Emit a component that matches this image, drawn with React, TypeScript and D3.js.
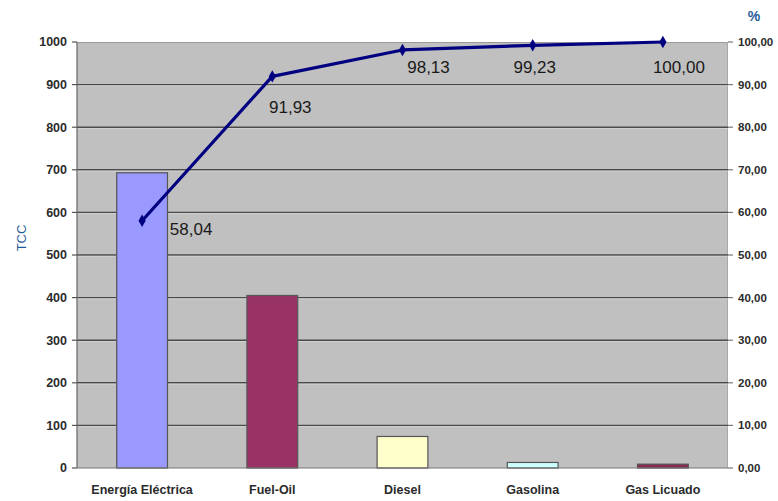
import React from "react";
import * as d3 from "d3";

// Consumption by energy carrier (TCC) and cumulative share (%)
const categories = ["Energía Eléctrica", "Fuel-Oil", "Diesel", "Gasolina", "Gas Licuado"];
const tccValues = [693, 405, 74, 13, 9];
const cumulativePct = [58.04, 91.93, 98.13, 99.23, 100.0];
const pctLabels = ["58,04", "91,93", "98,13", "99,23", "100,00"];
const leftTicks = [0, 100, 200, 300, 400, 500, 600, 700, 800, 900, 1000];
const rightTicks = [0, 10, 20, 30, 40, 50, 60, 70, 80, 90, 100];
const barColors = ["#9999FF", "#993366", "#FFFFCC", "#CCFFFF", "#8B2A55"];
// per-label nudges for the cumulative % annotations
const labelOffsets: [number, number][] = [
  [49, 8],
  [18, 31],
  [26, 17],
  [2, 22],
  [16, 25],
];

const W = 778;
const H = 501;
const M = { left: 77, right: 728, top: 42, bottom: 468 };
const FONT = "'Liberation Sans', Arial, sans-serif";

export default function App() {
  const x = d3.scaleBand<string>().domain(categories).range([M.left, M.right]).padding(0);
  const yL = d3.scaleLinear().domain([0, 1000]).range([M.bottom, M.top]);
  const yR = d3.scaleLinear().domain([0, 100]).range([M.bottom, M.top]);
  const bw = x.bandwidth();
  const barW = bw * 0.39;
  const cx = (c: string) => (x(c) as number) + bw / 2;

  const linePath = d3
    .line<number>()
    .x((_, i) => cx(categories[i]))
    .y((d) => yR(d))(cumulativePct) as string;
  const diamond = d3.symbol().type(d3.symbolDiamond).size(45)() as string;

  return (
    <svg
      width={W}
      height={H}
      style={{ position: "absolute", left: 0, top: 0, background: "#fff" }}
      fontFamily={FONT}
    >
      {/* plot area */}
      <rect x={M.left} y={M.top} width={M.right - M.left} height={M.bottom - M.top} fill="#C0C0C0" />
      <line x1={M.left} x2={M.right} y1={M.top + 0.5} y2={M.top + 0.5} stroke="#9a9a9a" strokeWidth={1} />
      <line x1={M.right - 0.5} x2={M.right - 0.5} y1={M.top} y2={M.bottom} stroke="#a8a8a8" strokeWidth={1} />

      {/* gridlines */}
      {leftTicks
        .filter((t) => t > 0 && t < 1000)
        .map((t) => (
          <g key={"g" + t}>
            <line x1={M.left} x2={M.right} y1={yL(t)} y2={yL(t)} stroke="#4a4a4a" strokeWidth={1.4} />
            <line x1={M.left} x2={M.right} y1={yL(t) + 1.3} y2={yL(t) + 1.3} stroke="#d4d4d4" strokeWidth={0.8} />
          </g>
        ))}

      {/* bars */}
      {categories.map((c, i) => (
        <rect
          key={c}
          x={cx(c) - barW / 2}
          y={yL(tccValues[i])}
          width={barW}
          height={yL(0) - yL(tccValues[i])}
          fill={barColors[i]}
          stroke="#555"
          strokeWidth={1.2}
        />
      ))}

      {/* axes */}
      <line x1={M.left} x2={M.left} y1={M.top} y2={M.bottom} stroke="#666" strokeWidth={1.2} />
      <line x1={M.left} x2={M.right} y1={M.bottom} y2={M.bottom} stroke="#777" strokeWidth={1.2} />

      {leftTicks.map((t) => (
        <g key={"l" + t}>
          <line x1={M.left - 5} x2={M.left} y1={yL(t)} y2={yL(t)} stroke="#555" strokeWidth={1.2} />
          <text
            x={M.left - 10}
            y={yL(t)}
            dy="0.35em"
            textAnchor="end"
            fontSize={12.5}
            fontWeight="bold"
            fill="#2b2b2b"
          >
            {t}
          </text>
        </g>
      ))}

      {rightTicks.map((t) => (
        <g key={"r" + t}>
          <line x1={M.right} x2={M.right + 5} y1={yR(t)} y2={yR(t)} stroke="#777" strokeWidth={1.2} />
          <text
            x={M.right + 10}
            y={yR(t)}
            dy="0.35em"
            textAnchor="start"
            fontSize={11.5}
            fontWeight="bold"
            fill="#2b2b2b"
          >
            {d3.format(".2f")(t).replace(".", ",")}
          </text>
        </g>
      ))}

      {categories.map((c) => (
        <text
          key={"c" + c}
          x={cx(c)}
          y={494}
          textAnchor="middle"
          fontSize={12.5}
          fontWeight="bold"
          fill="#2b2b2b"
        >
          {c}
        </text>
      ))}

      {/* axis titles */}
      <text
        transform={`translate(26,${238}) rotate(-90)`}
        textAnchor="middle"
        fontSize={13}
        fill="#1F5C99"
      >
        TCC
      </text>
      <text x={754} y={21} textAnchor="middle" fontSize={14} fontWeight="bold" fill="#1F5C99">
        %
      </text>

      {/* cumulative line */}
      <path d={linePath} fill="none" stroke="#000080" strokeWidth={3.2} strokeLinejoin="round" />
      {cumulativePct.map((v, i) => (
        <path key={"m" + i} d={diamond} transform={`translate(${cx(categories[i])},${yR(v)})`} fill="#000080" />
      ))}
      {cumulativePct.map((v, i) => (
        <text
          key={"t" + i}
          x={cx(categories[i]) + labelOffsets[i][0]}
          y={yR(v) + labelOffsets[i][1]}
          textAnchor="middle"
          dy="0.35em"
          fontSize={17}
          fill="#1a1a1a"
        >
          {pctLabels[i]}
        </text>
      ))}
    </svg>
  );
}
